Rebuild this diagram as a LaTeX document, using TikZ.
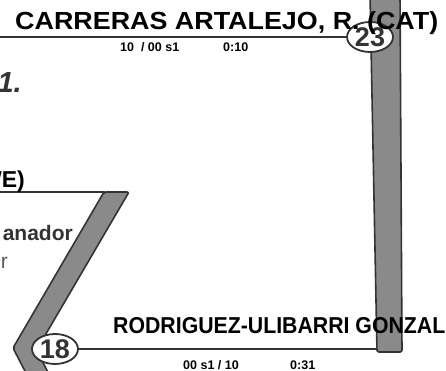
\documentclass[tikz,border=0pt]{standalone}
\usepackage{fontspec}
\setmainfont{Liberation Sans}
\usepackage{graphicx}
\usetikzlibrary{shapes.geometric,backgrounds}
\definecolor{barfill}{HTML}{8A8A8A}
\definecolor{edge}{HTML}{333333}
\begin{document}
\begin{tikzpicture}[x=1pt,y=-1pt,
  barshape/.style={fill=barfill,draw=edge,line width=1.6pt,line join=round,rounded corners=2pt},
  link/.style={draw=edge,line width=1.8pt},
  seed/.style={ellipse,draw=edge,fill=white,line width=1.8pt,minimum width=46pt,minimum height=30pt,inner sep=0pt,text=edge,font=\bfseries\fontsize{27}{27}\selectfont},
  txt/.style={inner sep=0pt,anchor=base west},
  score/.style={txt,font=\bfseries\fontsize{12.5}{12.5}\selectfont}]
\useasboundingbox (0,0) rectangle (446,371);
\clip (0,0) rectangle (446,371);
% seeds
\node[seed] (s23) at (370,37) {23};
\node[seed] (s18) at (55,349) {18};
\coordinate (t0) at (0,37);
\coordinate (b0) at (377,349);
\coordinate (l0) at (0,192);
\coordinate (l1) at (105,192);
\begin{scope}[on background layer]
  \path[barshape] (370,-6) -- (400,-6) -- (402,352) -- (377,352) -- cycle;
  \path[barshape] (104,192) -- (129,192) -- (36.5,350) -- (52,380) -- (29.6,380) -- (13,348) -- cycle;
  \draw[link] (t0) -- (s23);
  \draw[link] (s18) -- (b0);
  \draw[link] (l0) -- (l1);
\end{scope}
% names
\node[txt] (n1) at (15,30) {\scalebox{1.12}[1.03]{\bfseries\fontsize{24}{24}\selectfont CARRERAS ARTALEJO, R. (CAT)}};
\node[txt] (n2) at (113,333) {\scalebox{0.925}[1]{\bfseries\fontsize{23}{23}\selectfont RODRIGUEZ-ULIBARRI GONZAL}};
\node[inner sep=0pt,anchor=base east] (n3) at (25,188) {\bfseries\fontsize{23}{23}\selectfont WE)};
% scores
\node[score] (c1) at (120,52) {10\ \ / 00 s1};
\node[score] (c2) at (223,52) {0:10};
\node[score] (c3) at (183,369) {00 s1 / 10};
\node[score] (c4) at (290,369) {0:31};
% left fragments
\node[inner sep=0pt,anchor=base east,text=edge] (r1) at (22,93) {\bfseries\itshape\fontsize{29}{29}\selectfont 1.};
\node[inner sep=0pt,anchor=base east,text=edge] (g1) at (73,240) {\bfseries\fontsize{21}{21}\selectfont anador};
\node[inner sep=0pt,anchor=base east,text=edge!80] (g2) at (8,268) {\fontsize{21}{21}\selectfont r};
\end{tikzpicture}
\end{document}
